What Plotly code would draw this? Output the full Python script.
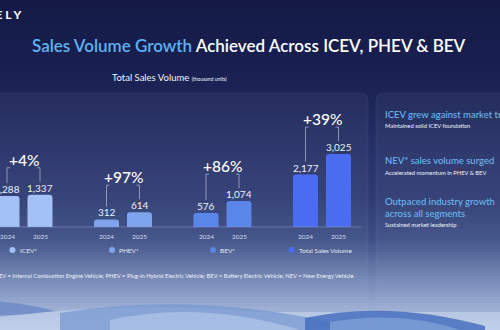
import plotly.graph_objects as go

# ---------------- data ----------------
groups = ["ICEV", "PHEV", "BEV", "Total"]
legend_labels = ["ICEV*", "PHEV*", "BEV*", "Total Sales Volume"]
years = ["2024", "2025"]
sales_2024 = [1288, 312, 576, 2177]
sales_2025 = [1337, 614, 1074, 3025]
growth = ["+4%", "+97%", "+86%", "+39%"]
bar_colors = ["#a3c1f6", "#7da4ec", "#5a86ea", "#4a6cf0"]

takeaway_heads = ["ICEV grew against market trend", "NEV* sales volume surged",
                  "Outpaced industry growth<br>across all segments"]
takeaway_subs = ["Maintained solid ICEV foundation", "Accelerated momentum in PHEV & BEV",
                 "Sustained market leadership"]
footnote = ("*ICEV = Internal Combustion Engine Vehicle; PHEV = Plug-in Hybrid Electric Vehicle; "
            "BEV = Battery Electric Vehicle; NEV = New Energy Vehicle")

# ---------------- geometry helpers ----------------
W, H = 500, 330
K = 41.5          # value units per pixel
BASE = 227        # baseline pixel row
PITCH = 99.5      # pixels per category
X0 = 23.5         # pixel x of first category centre
OFF = 16.5 / PITCH


def X(p):
    return p / W


def Y(p):
    return 1 - p / H


FONT = "Lato"
shapes = []
annotations = []

# ---------------- background gradient ----------------
stops = [(0, (20, 26, 69)), (60, (24, 31, 80)), (95, (28, 36, 86)), (150, (38, 49, 104)),
         (200, (47, 60, 115)), (240, (62, 80, 134)), (262, (90, 110, 160)),
         (285, (122, 141, 186)), (305, (150, 168, 206)), (330, (178, 196, 228))]


def col_at(y):
    for (y0, c0), (y1, c1) in zip(stops[:-1], stops[1:]):
        if y0 <= y <= y1:
            t = (y - y0) / (y1 - y0)
            return "rgb(%d,%d,%d)" % tuple(round(a + (b - a) * t) for a, b in zip(c0, c1))
    return "rgb(%d,%d,%d)" % stops[-1][1]


step = 3
for yy in range(0, H, step):
    shapes.append(dict(type="rect", xref="paper", yref="paper", x0=0, x1=1,
                       y0=Y(yy + step + 0.5), y1=Y(yy), fillcolor=col_at(yy + step / 2),
                       line=dict(width=0), layer="below"))

# ---------------- panels ----------------
shapes.append(dict(type="path", xref="paper", yref="paper", layer="below",
                   path=f"M {X(-10)},{Y(93)} L {X(360)},{Y(93)} Q {X(368)},{Y(93)} {X(368)},{Y(101)} "
                        f"L {X(368)},{Y(330)} L {X(-10)},{Y(330)} Z",
                   fillcolor="rgba(255,255,255,0.045)", line=dict(color="rgba(255,255,255,0.05)", width=1)))
shapes.append(dict(type="path", xref="paper", yref="paper", layer="below",
                   path=f"M {X(376)},{Y(101)} Q {X(376)},{Y(93)} {X(384)},{Y(93)} L {X(510)},{Y(93)} "
                        f"L {X(510)},{Y(330)} L {X(376)},{Y(330)} Z",
                   fillcolor="rgba(255,255,255,0.045)", line=dict(color="rgba(255,255,255,0.05)", width=1)))


# ---------------- bottom waves ----------------
def wave(pts_str, color):
    shapes.append(dict(type="path", xref="paper", yref="paper", layer="below",
                       path=pts_str, fillcolor=color, line=dict(width=0)))


def P(x, y):
    return f"{X(x)},{Y(y)}"


wave(f"M {P(-5,318)} Q {P(120,300)} {P(260,312)} L {P(505,312)} L {P(505,335)} L {P(-5,335)} Z",
     "rgba(200,215,238,0.55)")
wave(f"M {P(-5,301)} Q {P(30,304)} {P(55,311)} Q {P(25,315)} {P(-5,316)} Z", "rgba(98,130,196,0.7)")
wave(f"M {P(60,313)} Q {P(190,292)} {P(330,322)} L {P(330,335)} L {P(60,335)} Z", "rgba(120,152,210,0.75)")
wave(f"M {P(110,320)} Q {P(200,300)} {P(300,330)} L {P(110,335)} Z", "rgba(190,208,238,0.55)")
wave(f"M {P(305,318)} Q {P(390,300)} {P(485,326)} L {P(485,335)} L {P(305,335)} Z", "rgba(70,112,190,0.85)")
wave(f"M {P(330,322)} Q {P(400,310)} {P(460,330)} L {P(330,335)} Z", "rgba(150,180,225,0.5)")

# ---------------- bars ----------------
fig = go.Figure()
for yi, (yr, vals) in enumerate(zip(years, [sales_2024, sales_2025])):
    fig.add_trace(go.Bar(x=groups, y=vals, name=yr, marker=dict(color=bar_colors, line=dict(width=0),
                                                                cornerradius=3),
                         hoverinfo="skip", showlegend=False))

# baseline
shapes.append(dict(type="line", xref="paper", yref="y", x0=0, x1=X(361), y0=0, y1=0,
                   line=dict(color="rgba(140,155,205,0.55)", width=1)))

for i, g in enumerate(groups):
    v1, v2 = sales_2024[i], sales_2025[i]
    top = max(v1, v2)
    for off, v, yr in [(-OFF, v1, years[0]), (OFF, v2, years[1])]:
        annotations.append(dict(x=i + off, y=v, xref="x", yref="y", text=f"{v:,}", showarrow=False,
                                yanchor="bottom", yshift=-1,
                                font=dict(family=FONT, size=10, color="#eef1fa")))
        annotations.append(dict(x=i + off, y=0, xref="x", yref="y", text=yr, showarrow=False,
                                yanchor="top", yshift=-4,
                                font=dict(family=FONT, size=6.5, color="#d5dbee")))
    # growth
    annotations.append(dict(x=i, y=top, xref="x", yref="y", text=growth[i], showarrow=False,
                            yanchor="middle", yshift=35,
                            font=dict(family=FONT, size=15.5, color="#ffffff", weight=500)))
    # brackets
    yt = top + 27 * K
    lc = dict(color="rgba(205,210,230,0.75)", width=0.8)
    for off, v, d in [(-OFF, v1, 1), (OFF, v2, -1)]:
        shapes.append(dict(type="line", xref="x", yref="y", x0=i + off, x1=i + off,
                           y0=v + 13 * K, y1=yt, line=lc))
        shapes.append(dict(type="line", xref="x", yref="y", x0=i + off, x1=i + off + d * 3 / PITCH,
                           y0=yt, y1=yt, line=lc))
    # legend
    tw = len(legend_labels[i]) * 3.0
    total = 6 + 3 + tw
    cx = -total / 2 + 1
    shapes.append(dict(type="circle", xref="x", yref="paper", xsizemode="pixel", ysizemode="pixel",
                       xanchor=i, yanchor=Y(250), x0=cx - 3, x1=cx + 3, y0=-3, y1=3,
                       fillcolor=bar_colors[i], line=dict(width=0)))
    annotations.append(dict(x=i, y=Y(250), xref="x", yref="paper", xshift=cx + 5, xanchor="left",
                            yanchor="middle", text=legend_labels[i], showarrow=False,
                            font=dict(family=FONT, size=6.5, color="#e3e7f4")))

# ---------------- texts ----------------
annotations.append(dict(x=X(24), y=Y(14), xref="paper", yref="paper", xanchor="right", yanchor="middle",
                        text="G E E L Y", showarrow=False,
                        font=dict(family=FONT, size=12, color="#ffffff", weight=700)))
annotations.append(dict(x=X(249), y=Y(45), xref="paper", yref="paper", xanchor="center", yanchor="middle",
                        text="<span style='color:#5fb3f2'>Sales Volume Growth</span> Achieved Across ICEV, PHEV &amp; BEV",
                        showarrow=False, font=dict(family=FONT, size=17, color="#ffffff", weight=600)))
annotations.append(dict(x=X(110), y=Y(78), xref="paper", yref="paper", xanchor="left", yanchor="middle",
                        text="Total Sales Volume <span style='font-size:5px'>(thousand units)</span>",
                        showarrow=False, font=dict(family=FONT, size=9.5, color="#f0f2fa")))

head_y = [114, 161, 207]
sub_y = [125, 172, 224]
for hd, sb, hy, sy in zip(takeaway_heads, takeaway_subs, head_y, sub_y):
    annotations.append(dict(x=X(383), y=Y(hy), xref="paper", yref="paper", xanchor="left", yanchor="middle",
                            text=hd, showarrow=False, align="left",
                            font=dict(family=FONT, size=9.5, color="#69b8f2", weight=500)))
    annotations.append(dict(x=X(383), y=Y(sy), xref="paper", yref="paper", xanchor="left", yanchor="middle",
                            text=sb, showarrow=False,
                            font=dict(family=FONT, size=5.8, color="#f0f2fa")))

annotations.append(dict(x=X(355), y=Y(275), xref="paper", yref="paper", xanchor="right", yanchor="middle",
                        text=footnote, showarrow=False,
                        font=dict(family=FONT, size=5.8, color="#eef1f8")))

fig.update_layout(
    width=W, height=H, margin=dict(l=0, r=0, t=0, b=0),
    paper_bgcolor="#1c2456", plot_bgcolor="rgba(0,0,0,0)",
    barmode="group", bargap=0.337, bargroupgap=0.242,
    xaxis=dict(range=[-X0 / PITCH, (W - X0) / PITCH], visible=False, domain=[0, 1], fixedrange=True),
    yaxis=dict(range=[-(H - BASE) * K, BASE * K], visible=False, domain=[0, 1], fixedrange=True),
    shapes=shapes, annotations=annotations, showlegend=False,
)

fig.write_html("out.html", config={"displayModeBar": False})
